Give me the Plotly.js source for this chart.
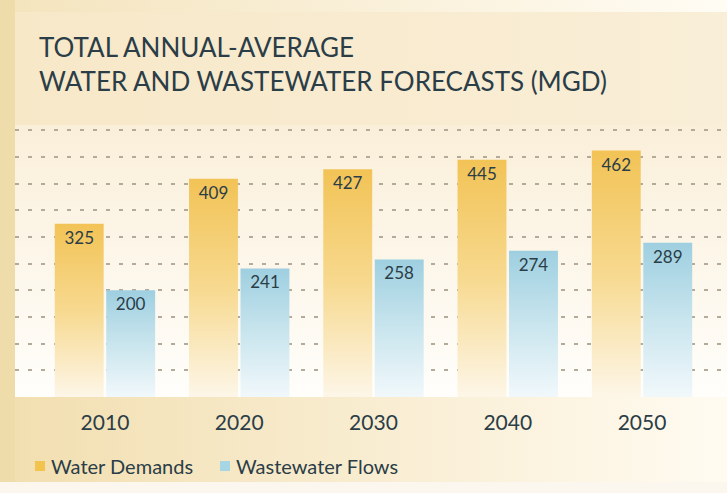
<!DOCTYPE html>
<html><head><meta charset="utf-8">
<script src="https://cdn.plot.ly/plotly-3.0.1.min.js"></script>
<style>
html,body{margin:0;padding:0;background:#fff;}
#chart{width:727px;height:493px;position:relative;
background:
 linear-gradient(#fbf7ee,#fbf7ee) 0 482px/727px 11px no-repeat,
 linear-gradient(#efdcab,#efdcab) 0 0/15px 482px no-repeat,
 linear-gradient(to right,#f4e4bd,#fffcf4) 0 0/727px 12px no-repeat,
 linear-gradient(to right,#f7e8c8,#f9eed7) 15px 12px/712px 113px no-repeat,
 linear-gradient(to bottom,#faefd9,#fffefb) 15px 125px/712px 272px no-repeat,
 linear-gradient(to right,#f2dfb1,#fffbf1) 15px 397px/712px 85px no-repeat,
 #f6e7c4;}
</style></head>
<body><div id="chart"></div>
<script>
const years = ['2010','2020','2030','2040','2050'];
const waterDemands = [325,409,427,445,462];
const wastewaterFlows = [200,241,258,274,289];
const seriesNames = ['Water Demands','Wastewater Flows'];
const chartTitle = 'TOTAL ANNUAL-AVERAGE<br>WATER AND WASTEWATER FORECASTS (MGD)';

const W=727,H=493,ML=15,MR=0,MT=125,MB=96;
const pw=W-ML-MR, ph=H-MT-MB;
const px=x=>(x-ML)/pw, py=y=>(H-MB-y)/ph;
const ink='#2b3d47';
const font='Lato, "Noto Sans", sans-serif';

const data=[
 {type:'bar',name:seriesNames[0],x:years,y:waterDemands,text:waterDemands.map(String),
  marker:{color:'#f3c55c',line:{width:0}},textposition:'inside',insidetextanchor:'end',textangle:0,
  textfont:{color:ink,size:17,family:font},hoverinfo:'none'},
 {type:'bar',name:seriesNames[1],x:years,y:wastewaterFlows,text:wastewaterFlows.map(String),
  marker:{color:'#a3d2e2',line:{width:0}},textposition:'inside',insidetextanchor:'end',textangle:0,
  textfont:{color:ink,size:17,family:font},hoverinfo:'none'}
];

const layout={
 width:W,height:H,margin:{l:ML,r:MR,t:MT,b:MB,pad:0},
 paper_bgcolor:'rgba(0,0,0,0)',plot_bgcolor:'rgba(0,0,0,0)',
 barmode:'group',bargap:0.233,bargroupgap:0.05,showlegend:false,
 font:{family:font,color:ink},
 xaxis:{type:'category',range:[-0.67,4.633],showgrid:false,zeroline:false,showline:false,ticks:'',
  tickfont:{size:21,color:ink,family:font},ticklabelstandoff:11,fixedrange:true},
 yaxis:{range:[0,510],showticklabels:false,ticks:'',zeroline:false,showline:false,
  showgrid:true,gridcolor:'#b3aa99',gridwidth:2,griddash:'4px,9px',dtick:50,tick0:0,fixedrange:true},
 shapes:[
  {type:'rect',xref:'paper',yref:'paper',x0:px(35),x1:px(45),y0:py(471),y1:py(461),fillcolor:'#f2c34f',line:{width:0}},
  {type:'rect',xref:'paper',yref:'paper',x0:px(220),x1:px(230),y0:py(471),y1:py(461),fillcolor:'#a6d5e4',line:{width:0}}
 ],
 annotations:[
  {text:chartTitle,xref:'paper',yref:'paper',x:px(37),y:py(29),xanchor:'left',yanchor:'top',align:'left',showarrow:false,font:{size:26,color:ink,family:font}},
  {text:seriesNames[0],xref:'paper',yref:'paper',x:px(49),y:py(466),xanchor:'left',yanchor:'middle',showarrow:false,font:{size:20,color:ink,family:font}},
  {text:seriesNames[1],xref:'paper',yref:'paper',x:px(234),y:py(466),xanchor:'left',yanchor:'middle',showarrow:false,font:{size:20,color:ink,family:font}}
 ]
};

const grads=[['#f2c356','#f7d98f','#fdf6e8'],['#9ecfe0','#c9e5ee','#f1f8fb']];
Plotly.newPlot('chart',data,layout,{staticPlot:true,displayModeBar:false}).then(gd=>{
 const ns='http://www.w3.org/2000/svg';
 const svg=gd.querySelector('svg.main-svg');
 let defs=svg.querySelector('defs');
 if(!defs){defs=document.createElementNS(ns,'defs');svg.insertBefore(defs,svg.firstChild);}
 grads.forEach((g,i)=>{
  const lg=document.createElementNS(ns,'linearGradient');
  lg.setAttribute('id','bargrad'+i);lg.setAttribute('x1','0');lg.setAttribute('y1','0');
  lg.setAttribute('x2','0');lg.setAttribute('y2','1');
  [[0,g[0]],[0.5,g[1]],[1,g[2]]].forEach(([o,c])=>{
   const s=document.createElementNS(ns,'stop');s.setAttribute('offset',o);s.setAttribute('stop-color',c);lg.appendChild(s);});
  defs.appendChild(lg);
 });
 gd.querySelectorAll('.barlayer .trace').forEach((tr,i)=>{
  tr.querySelectorAll('.point path').forEach(p=>{p.style.fill='url(#bargrad'+i+')';});
 });
});
</script></body></html>
